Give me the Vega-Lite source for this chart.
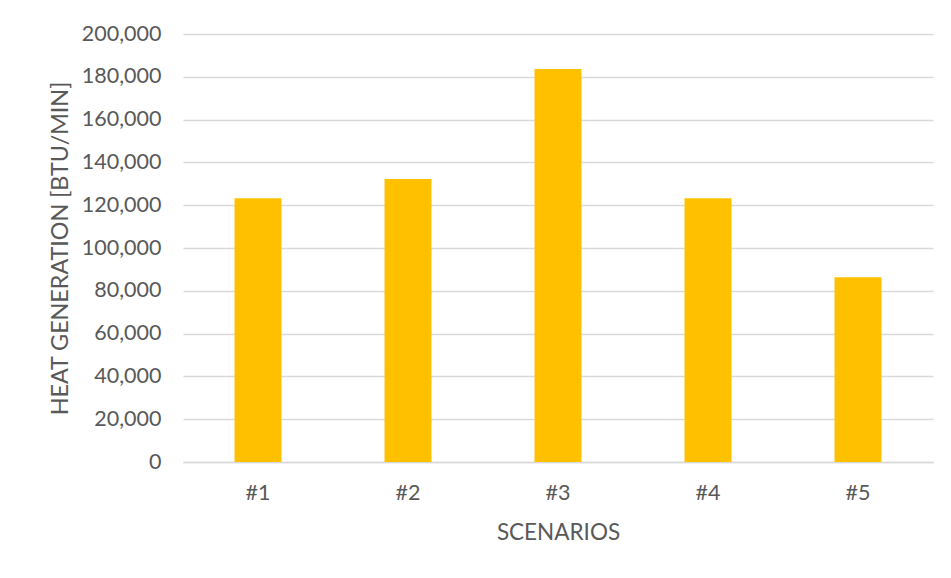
{
  "$schema": "https://vega.github.io/schema/vega-lite/v6.json",
  "width": 750,
  "height": 428,
  "autosize": {"type": "none"},
  "padding": {"left": 183, "top": 34, "right": 18, "bottom": 116},
  "background": "white",
  "data": {
    "values": [
      {"scenario": "#1", "heat": 123300},
      {"scenario": "#2", "heat": 132200},
      {"scenario": "#3", "heat": 183600},
      {"scenario": "#4", "heat": 123300},
      {"scenario": "#5", "heat": 86300}
    ]
  },
  "mark": {"type": "bar", "color": "#FFC000"},
  "encoding": {
    "x": {
      "field": "scenario",
      "type": "nominal",
      "sort": null,
      "scale": {"paddingInner": 0.687, "paddingOuter": 0.3435},
      "axis": {
        "title": "SCENARIOS",
        "labelAngle": 0,
        "ticks": false,
        "domainColor": "#d9d9d9",
        "domainWidth": 1.5,
        "labelPadding": 20,
        "titlePadding": 18
      }
    },
    "y": {
      "field": "heat",
      "type": "quantitative",
      "scale": {"domain": [0, 200000], "nice": false},
      "axis": {
        "title": "HEAT GENERATION [BTU/MIN]",
        "titleFontSize": 23.3,
        "values": [0, 20000, 40000, 60000, 80000, 100000, 120000, 140000, 160000, 180000, 200000],
        "format": ",.0f",
        "ticks": false,
        "domain": false,
        "gridColor": "#d9d9d9",
        "gridWidth": 1.5,
        "labelPadding": 22,
        "titlePadding": 9
      }
    }
  },
  "config": {
    "view": {"stroke": null},
    "font": "Lato",
    "axis": {
      "labelFont": "Lato",
      "labelFontSize": 21.5,
      "labelColor": "#595959",
      "titleFont": "Lato",
      "titleFontSize": 22.5,
      "titleFontWeight": "normal",
      "titleColor": "#595959"
    }
  }
}
